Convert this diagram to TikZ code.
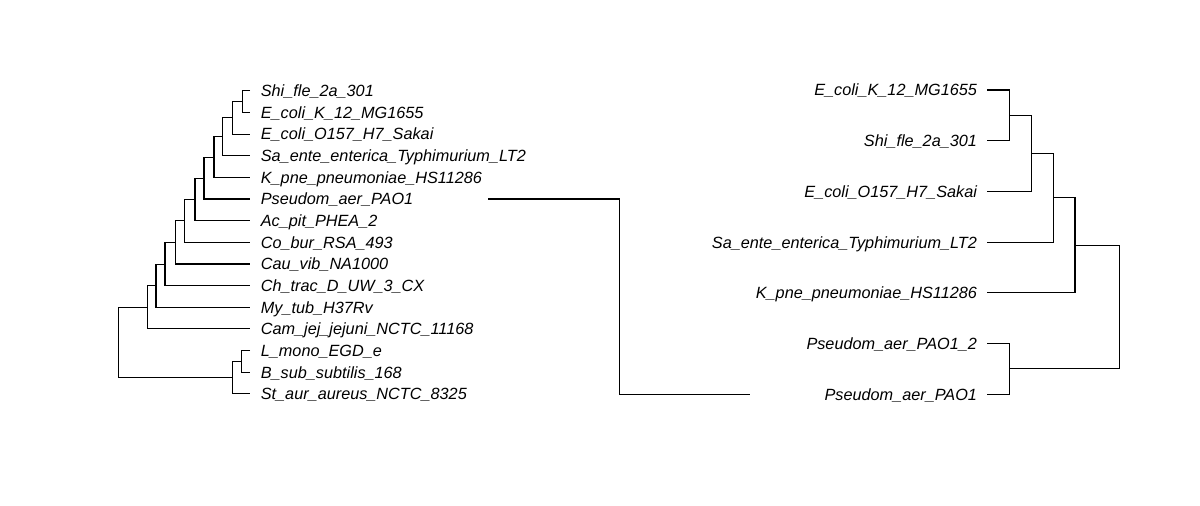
\documentclass[tikz,border=0pt]{standalone}
\usepackage{fontspec}
\setmainfont{Liberation Sans}
\begin{document}
\begin{tikzpicture}[x=0.02cm,y=-0.02cm,
  edge/.style={line width=0.6pt, line join=miter},
  lab/.style={inner sep=0pt, font=\fontsize{9.25}{11}\selectfont\itshape},
  llab/.style={lab, anchor=base west},
  rlab/.style={lab, anchor=base east}]
\useasboundingbox[fill=white] (0,0) rectangle (1200,505);
% ---------- left tree tips ----------
\foreach \i/\y/\t in {1/90.7/Shi\_fle\_2a\_301, 2/112.36/E\_coli\_K\_12\_MG1655, 3/134.02/E\_coli\_O157\_H7\_Sakai,
  4/155.68/Sa\_ente\_enterica\_Typhimurium\_LT2, 5/177.34/K\_pne\_pneumoniae\_HS11286, 6/199.0/Pseudom\_aer\_PAO1,
  7/220.66/Ac\_pit\_PHEA\_2, 8/242.32/Co\_bur\_RSA\_493, 9/263.98/Cau\_vib\_NA1000, 10/285.64/Ch\_trac\_D\_UW\_3\_CX,
  11/307.3/My\_tub\_H37Rv, 12/328.96/Cam\_jej\_jejuni\_NCTC\_11168, 13/350.62/L\_mono\_EGD\_e,
  14/372.28/B\_sub\_subtilis\_168, 15/393.94/St\_aur\_aureus\_NCTC\_8325}{
  \coordinate (l\i) at (250,\y);
  \node[llab] (ll\i) at (260.5,\y+5.9) {\t};
}
% internal nodes (left)
\coordinate (n1) at (242.3,101.53);
\coordinate (n2) at (232.7,117.78);
\coordinate (n3) at (222.7,136.73);
\coordinate (n4) at (214.0,157.03);
\coordinate (n5) at (204.0,178.02);
\coordinate (n6) at (195.0,199.34);
\coordinate (n7) at (184.3,220.83);
\coordinate (n8) at (175.7,242.40);
\coordinate (n9) at (165.0,264.02);
\coordinate (n10) at (156.0,285.66);
\coordinate (n11) at (147.3,307.31);
\coordinate (n12) at (241.7,361.45);
\coordinate (n13) at (232.7,377.70);
\coordinate (nr) at (118.3,342.50);
\draw[edge] (l1) -| (n1) |- (l2);
\draw[edge] (n1) -| (n2) |- (l3);
\draw[edge] (n2) -| (n3) |- (l4);
\draw[edge] (n3) -| (n4) |- (l5);
\draw[edge] (n4) -| (n5) |- (l6);
\draw[edge] (n5) -| (n6) |- (l7);
\draw[edge] (n6) -| (n7) |- (l8);
\draw[edge] (n7) -| (n8) |- (l9);
\draw[edge] (n8) -| (n9) |- (l10);
\draw[edge] (n9) -| (n10) |- (l11);
\draw[edge] (n10) -| (n11) |- (l12);
\draw[edge] (l13) -| (n12) |- (l14);
\draw[edge] (n12) -| (n13) |- (l15);
\draw[edge] (n11) -| (nr) |- (n13);
% ---------- right tree tips ----------
\foreach \i/\y/\t in {1/90/E\_coli\_K\_12\_MG1655, 2/140.72/Shi\_fle\_2a\_301, 3/191.44/E\_coli\_O157\_H7\_Sakai,
  4/242.16/Sa\_ente\_enterica\_Typhimurium\_LT2, 5/292.88/K\_pne\_pneumoniae\_HS11286,
  6/343.6/Pseudom\_aer\_PAO1\_2, 7/394.32/Pseudom\_aer\_PAO1}{
  \coordinate (r\i) at (987.3,\y);
  \node[rlab] (rl\i) at (977.3,\y+5.9) {\t};
}
\coordinate (m1) at (1009.3,115.36);
\coordinate (m2) at (1031.7,153.40);
\coordinate (m3) at (1053.3,197.78);
\coordinate (m4) at (1075.0,245.33);
\coordinate (m5) at (1009.3,368.96);
\coordinate (mr) at (1119.3,307.15);
\draw[edge] (r1) -| (m1) |- (r2);
\draw[edge] (m1) -| (m2) |- (r3);
\draw[edge] (m2) -| (m3) |- (r4);
\draw[edge] (m3) -| (m4) |- (r5);
\draw[edge] (r6) -| (m5) |- (r7);
\draw[edge] (m4) -| (mr) |- (m5);
% ---------- connector ----------
\coordinate (cL) at (488,199.0);
\coordinate (cR) at (750,394.32);
\coordinate (cM) at (619.3,300);
\draw[edge] (cL) -| (cM) |- (cR);
\end{tikzpicture}
\end{document}
